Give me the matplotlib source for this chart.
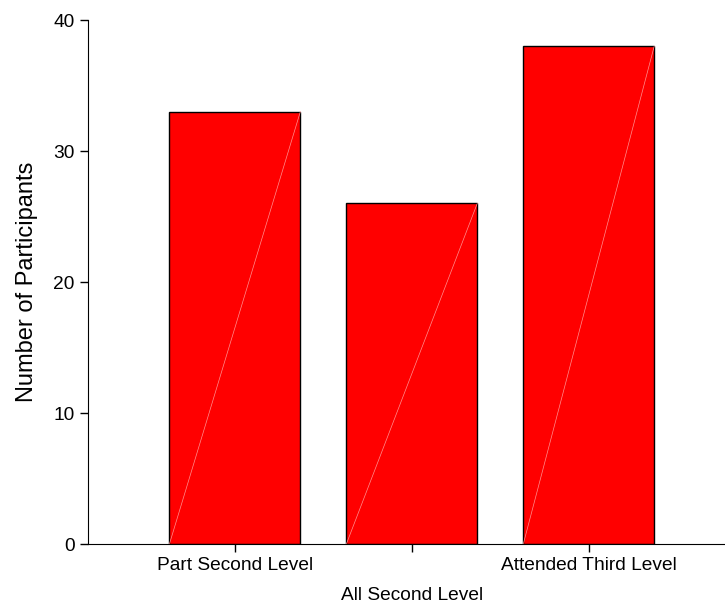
import matplotlib.pyplot as plt
from matplotlib.transforms import ScaledTranslation

categories = ['Part Second Level', 'All Second Level', 'Attended Third Level']
participants = [33, 26, 38]
yticks = [0, 10, 20, 30, 40]

plt.rcParams['font.family'] = ['Liberation Sans', 'DejaVu Sans']

fig = plt.figure(figsize=(7.25, 6.03), dpi=100)
ax = fig.add_axes([0.1214, 0.0978, 0.8786, 0.869])

x = list(range(len(categories)))
w = 0.74
ax.bar(x, participants, width=w, color='#ff0000', edgecolor='black', linewidth=1.0, zorder=2)

# thin light diagonal inside each bar, like the original export
for xi, v in zip(x, participants):
    ax.plot([xi - w / 2, xi + w / 2], [0, v], color='#ff9090', linewidth=0.5, zorder=3)

ax.set_xlim(-0.83, 2.77)
ax.set_ylim(0, 40)
ax.set_yticks(yticks)
ax.set_xticks(x)
ax.set_xticklabels(categories, fontsize=13.8)
ax.tick_params(axis='y', labelsize=13.8, length=6, width=1, pad=3.5)
ax.tick_params(axis='x', length=6, width=1, pad=3)

# middle label is staggered lower
lab = ax.get_xticklabels()[1]
lab.set_transform(lab.get_transform() + ScaledTranslation(0, -0.30, fig.dpi_scale_trans))

ax.set_ylabel('Number of Participants', fontsize=17, labelpad=11)
ax.spines['top'].set_visible(False)
ax.spines['right'].set_visible(False)

plt.savefig('out.png', dpi=100)
